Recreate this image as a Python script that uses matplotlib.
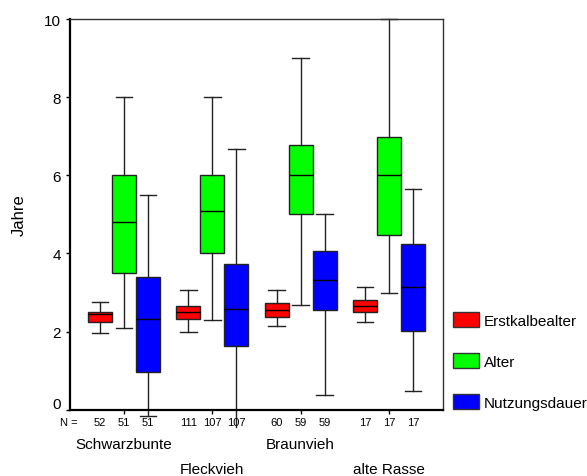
import matplotlib
matplotlib.use('Agg')
import matplotlib.pyplot as plt
from matplotlib.patches import Patch
import matplotlib.transforms as mtransforms

plt.rcParams['font.family'] = ['Liberation Sans', 'DejaVu Sans']

# Daten
gruppen = ['Schwarzbunte', 'Fleckvieh', 'Braunvieh', 'alte Rasse']
merkmale = ['Erstkalbealter', 'Alter', 'Nutzungsdauer']
farben = ['#ff0000', '#00ff00', '#0000ff']

# Zeilen: Erstkalbealter, Alter, Nutzungsdauer / Spalten: Gruppen
n_werte = [[52, 111, 60, 17], [51, 107, 59, 17], [51, 107, 59, 17]]
median = [[2.44, 2.49, 2.54, 2.66], [4.80, 5.08, 6.00, 6.00], [2.33, 2.59, 3.32, 3.15]]
q1 = [[2.24, 2.33, 2.38, 2.49], [3.50, 4.00, 5.00, 4.48], [0.96, 1.64, 2.54, 2.02]]
q3 = [[2.49, 2.66, 2.74, 2.82], [6.00, 6.00, 6.78, 6.99], [3.39, 3.74, 4.07, 4.23]]
w_lo = [[1.97, 1.99, 2.15, 2.24], [2.08, 2.29, 2.67, 2.99], [-0.17, -0.45, 0.38, 0.48]]
w_hi = [[2.76, 3.07, 3.07, 3.15], [8.00, 8.00, 9.00, 10.00], [5.50, 6.66, 5.00, 5.66]]

fig = plt.figure(figsize=(5.87, 4.77), dpi=100)
ax = fig.add_axes([70/587, 66.3/477, 373/587, 390.7/477])

breite = 0.272
for j, name in enumerate(merkmale):
    stats = []
    pos = []
    for i in range(len(gruppen)):
        stats.append(dict(med=median[j][i], q1=q1[j][i], q3=q3[j][i],
                          whislo=w_lo[j][i], whishi=w_hi[j][i], fliers=[]))
        pos.append(i + 1 + (j - 1) * breite)
    bp = ax.bxp(stats, positions=pos, widths=breite, patch_artist=True,
                showfliers=False, capwidths=0.19,
                boxprops=dict(facecolor=farben[j], edgecolor='#222222', linewidth=1),
                medianprops=dict(color='black', linewidth=1),
                whiskerprops=dict(color='#222222', linewidth=1),
                capprops=dict(color='#222222', linewidth=1))
    for l in bp['whiskers'] + bp['caps']:
        l.set_clip_on(False)
    if j == 2:
        # Fleckvieh: unteres Ende ohne Querstrich
        bp['caps'][2].set_visible(False)

    for i in range(len(gruppen)):
        ax.text(pos[i], -0.031, str(n_werte[j][i]), transform=ax.get_xaxis_transform(),
                ha='center', va='center', fontsize=8)

ax.text(-0.027, -0.031, 'N =', transform=ax.transAxes, ha='left', va='center', fontsize=8)

for i, g in enumerate(gruppen):
    y = -0.088 if i % 2 == 0 else -0.152
    ax.text(i + 1, y, g, transform=ax.get_xaxis_transform(),
            ha='center', va='center', fontsize=11)

ax.set_xlim(0.388, 4.612)
ax.set_ylim(0, 10)
ax.set_xticks([1, 2, 3, 4])
ax.set_xticklabels([])
ax.set_yticks([0, 2, 4, 6, 8, 10])
ax.tick_params(axis='both', direction='out', length=3, width=1, labelsize=11)
# die 0 etwas hoeher setzen
lbl0 = ax.get_yticklabels()[0]
lbl0.set_transform(lbl0.get_transform() + mtransforms.ScaledTranslation(0, 7/100, fig.dpi_scale_trans))

ax.set_ylabel('Jahre', fontsize=12)
ax.yaxis.set_label_coords(-0.115, 0.5)

ax.spines['left'].set_linewidth(1.6)
ax.spines['bottom'].set_linewidth(1.6)
ax.spines['top'].set_linewidth(1)
ax.spines['right'].set_linewidth(1)
ax.spines['top'].set_color('#333333')
ax.spines['right'].set_color('#333333')

handles = [Patch(facecolor=farben[j], edgecolor='#333333', linewidth=1, label=merkmale[j])
           for j in range(3)]
ax.legend(handles=handles, loc='upper left', bbox_to_anchor=(453/587, (477 - 313)/477),
          bbox_transform=fig.transFigure, frameon=False, fontsize=11,
          handlelength=1.7, handleheight=1.11, handletextpad=0.3,
          labelspacing=1.68, borderpad=0, borderaxespad=0)

fig.savefig('out.png', dpi=100)
